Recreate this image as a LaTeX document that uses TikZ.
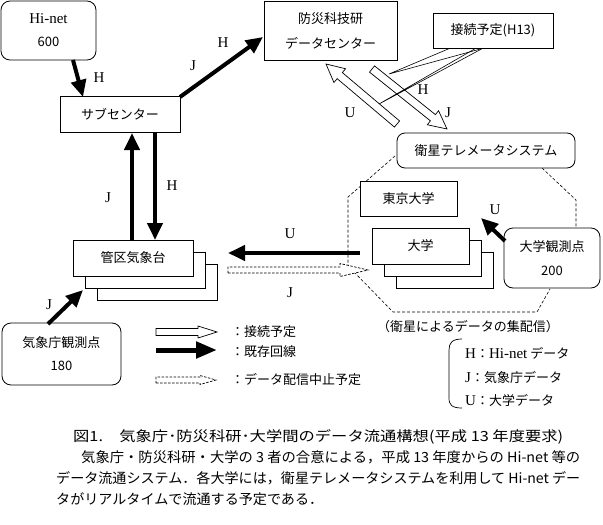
\documentclass[tikz,border=0pt]{standalone}
\usepackage{fontspec}
\usepackage{graphicx}
\setmainfont{Liberation Serif}
\newfontfamily\jp{Noto Sans CJK JP}
\usetikzlibrary{arrows.meta}
% hollow arrow: #1 style, #2 from, #3 to, #4 shaft half, #5 head half, #6 head length
\newcommand\hollowarrow[6]{%
  \pgfpointdiff{\pgfpointanchor{#2}{center}}{\pgfpointanchor{#3}{center}}%
  \pgfgetlastxy{\hax}{\hay}%
  \pgfmathsetmacro\haang{atan2(\hay,\hax)}%
  \pgfmathsetmacro\halen{veclen(\hax,\hay)}%
  \begin{scope}[shift={(#2)}, rotate=\haang, x=1pt, y=1pt]
    \draw[#1] (0,-#4) -- ({\halen-#6},-#4) -- ({\halen-#6},-#5) -- (\halen,0)
      -- ({\halen-#6},#5) -- ({\halen-#6},#4) -- (0,#4) -- cycle;
  \end{scope}}
\newcommand\fitline[2]{\resizebox{#1}{\height}{#2}}
\begin{document}
\begin{tikzpicture}[x=1pt,y=-1pt,
  box/.style={draw, line width=0.8pt, fill=white, inner sep=0pt,
    font=\jp\fontsize{13}{15}\selectfont, align=center},
  rbox/.style={box, rounded corners=9pt},
  lbl/.style={inner sep=0pt, font=\rmfamily\fontsize{15}{15}\selectfont},
  jtext/.style={inner sep=0pt, font=\jp\fontsize{13}{15}\selectfont},
  captxt/.style={inner sep=0pt, anchor=west, font=\jp\fontsize{14}{16}\selectfont},
  thick arrow/.style={line width=4pt, -{Triangle[length=17pt,width=15pt]}},
  hollow/.style={draw, line width=0.7pt, fill=white},
  dashhollow/.style={draw, line width=0.7pt, dash pattern=on 2.5pt off 1.5pt, fill=white},
  octa/.style={line width=0.6pt, dash pattern=on 3pt off 2pt}
]
\useasboundingbox (0,0) rectangle (603,525);

% satellite dashed octagon (behind boxes)
\draw[octa] (395,156) -- (348,197) -- (348,266);
\draw[octa] (354,272) -- (393,312) -- (537,312) -- (550,289);
\draw[octa] (542,168) -- (576,200) -- (576,228);

% boxes
\node[rbox, minimum width=95pt, minimum height=59pt, font=\fontsize{15}{23}\selectfont] (hinet) at (48.5,30.5) {Hi-net\\{\jp\fontsize{13}{15}\selectfont 600}};
\node[box, minimum width=120pt, minimum height=36pt] (sub) at (120,114) {サブセンター};
\node[box, minimum width=133pt, minimum height=59pt, font=\jp\fontsize{13}{25}\selectfont] (bosai) at (330.5,30.5) {防災科技研\\データセンター};
\node[box, minimum width=120pt, minimum height=35pt] (yotei) at (493,30.5) {接続予定(H13)};
\node[rbox, rounded corners=8pt, minimum width=178pt, minimum height=35pt] (sat) at (486,150.5) {衛星テレメータシステム};

\node[box, minimum width=120pt, minimum height=36pt] (kanku3) at (157,282) {};
\node[box, minimum width=120pt, minimum height=36pt] (kanku2) at (145,270) {};
\node[box, minimum width=120pt, minimum height=36pt] (kanku) at (133,258) {管区気象台};

\node[box, minimum width=97pt, minimum height=35pt] (tokyo) at (408.5,198.5) {東京大学};
\node[box, minimum width=97pt, minimum height=36pt] (univ3) at (444.5,270) {};
\node[box, minimum width=97pt, minimum height=36pt] (univ2) at (432.5,258) {};
\node[box, minimum width=97pt, minimum height=36pt] (univ) at (420.5,246) {大学};

\node[rbox, minimum width=96pt, minimum height=60pt, font=\jp\fontsize{13}{24}\selectfont] (uobs) at (552,258) {大学観測点\\200};
\node[rbox, minimum width=119pt, minimum height=62pt, font=\jp\fontsize{13}{23}\selectfont] (jobs) at (61.5,354) {気象庁観測点\\180};

% free ends
\coordinate (hinetS) at (73,60);
\coordinate (subN) at (83,97);
\coordinate (subNE) at (180,97);
\coordinate (bosaiW) at (263,37);
\coordinate (subSa) at (132,133);
\coordinate (kankuNa) at (132,240);
\coordinate (subSb) at (155,132);
\coordinate (kankuNb) at (155,240);
\coordinate (uTail) at (360,253);
\coordinate (uTip) at (228,253);
\coordinate (jobsN) at (48,324);
\coordinate (kankuSW) at (83,290);
\coordinate (uobsW) at (505,241);
\coordinate (uobsTip) at (481,218);
\coordinate (satU) at (397,124);
\coordinate (bosaiU) at (326,64);
\coordinate (bosaiH) at (372,69);
\coordinate (satH) at (447,129);
\coordinate (jTail) at (228,270);
\coordinate (jTip) at (368,270);

% thick arrows
\draw[thick arrow] (hinetS) -- (subN);
\draw[thick arrow] (subNE) -- (bosaiW);
\draw[thick arrow] (kankuNa) -- (subSa);
\draw[thick arrow] (subSb) -- (kankuNb);
\draw[thick arrow] (uTail) -- (uTip);
\draw[thick arrow] (jobsN) -- (kankuSW);
\draw[thick arrow] (uobsW) -- (uobsTip);

% hollow arrows
\hollowarrow{hollow}{satU}{bosaiU}{4}{9}{18}
\hollowarrow{hollow}{bosaiH}{satH}{4}{9}{18}
\hollowarrow{dashhollow}{jTail}{jTip}{3}{6.5}{28}

% callout lines
\draw[line width=0.6pt] ([xshift=17pt]yotei.south west) -- (389,74) -- ([xshift=50pt]yotei.south west);
\draw[line width=0.6pt] ([xshift=43pt]yotei.south west) -- (379,104) -- ([xshift=50pt]yotei.south west);

% labels
\node[lbl] (l1) at (99,78) {H};
\node[lbl] (l2) at (193,66) {J};
\node[lbl] (l3) at (223,43) {H};
\node[lbl] (l4) at (108,198) {J};
\node[lbl] (l5) at (172,186) {H};
\node[lbl] (l6) at (350,113) {U};
\node[lbl] (l7) at (423,90) {H};
\node[lbl] (l8) at (448,113) {J};
\node[lbl] (l9) at (290,234) {U};
\node[lbl] (l10) at (290,293) {J};
\node[lbl] (l11) at (495,210) {U};
\node[lbl] (l12) at (49,305) {J};

% legend
\coordinate (lg1a) at (156,332); \coordinate (lg1b) at (217,332);
\coordinate (lg2a) at (156,350); \coordinate (lg2b) at (217,350);
\coordinate (lg3a) at (156,380); \coordinate (lg3b) at (216,380);
\hollowarrow{hollow}{lg1a}{lg1b}{3.5}{6}{19}
\draw[line width=5pt, -{Triangle[length=21pt,width=16pt]}] (lg2a) -- (lg2b);
\hollowarrow{dashhollow}{lg3a}{lg3b}{3}{4.5}{16}
\node[jtext, anchor=west] (lt1) at (231,332) {：接続予定};
\node[jtext, anchor=west] (lt2) at (231,352) {：既存回線};
\node[jtext, anchor=west] (lt3) at (231,380) {：データ配信中止予定};

\node[jtext] (satlbl) at (468,327) {（衛星によるデータの集配信）};
\draw[line width=0.7pt] (462,339) .. controls (452,339) and (449,343) .. (449,350)
  -- (449,398) .. controls (449,405) and (452,408) .. (462,408);
\node[jtext, anchor=west] (lh) at (465,353) {{\rmfamily\fontsize{15}{15}\selectfont H}：{\rmfamily\fontsize{15}{15}\selectfont Hi-net} データ};
\node[jtext, anchor=west] (lj) at (465,378) {{\rmfamily\fontsize{15}{15}\selectfont J}：気象庁データ};
\node[jtext, anchor=west] (lu) at (465,400) {{\rmfamily\fontsize{15}{15}\selectfont U}：大学データ};

% caption
\node[captxt] (c1) at (73,437) {\fitline{490pt}{図1.　気象庁･防災科研･大学間のデータ流通構想(平成 13 年度要求)}};
\node[captxt] (c2) at (81,457) {\fitline{499pt}{気象庁・防災科研・大学の 3 者の合意による，平成 13 年度からの Hi-net 等の}};
\node[captxt] (c3) at (56,478) {\fitline{524pt}{データ流通システム．各大学には，衛星テレメータシステムを利用して Hi-net デー}};
\node[captxt] (c4) at (56,499) {\fitline{267pt}{タがリアルタイムで流通する予定である．}};
\end{tikzpicture}
\end{document}
